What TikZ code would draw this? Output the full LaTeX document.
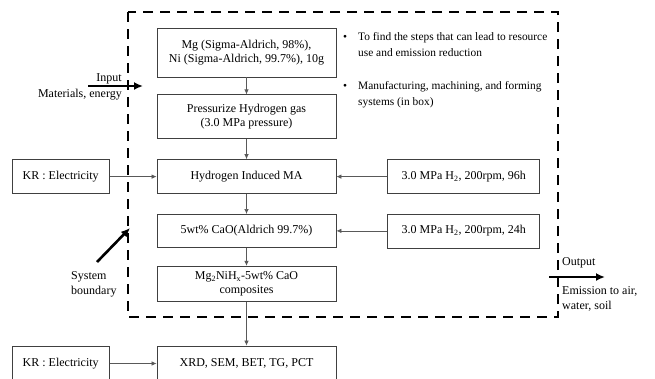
\documentclass[tikz,border=0pt]{standalone}
\usepackage{fontspec}
\setmainfont{Liberation Serif}
\usetikzlibrary{arrows.meta,positioning}

\begin{document}
\begin{tikzpicture}[
    x=1pt, y=-1pt,
    font=\fontsize{12}{14}\selectfont,
    box/.style={rectangle, draw=black!75, line width=0.8pt, fill=white, align=center, inner sep=2pt},
    mainbox/.style={box, minimum width=179pt},
    sidebox/.style={box, minimum width=97pt, minimum height=34pt},
    parambox/.style={box, minimum width=152pt, minimum height=34pt},
    lbl/.style={inner sep=0pt, align=left, font=\fontsize{12}{15.5}\selectfont},
    note/.style={inner sep=0pt, align=left, anchor=north west, font=\fontsize{11.4}{16}\selectfont},
    arrow/.style={-{Latex[length=5pt,width=4.5pt]}, draw=black!65, line width=0.7pt},
    bigarrow/.style={-{Latex[length=9pt,width=8pt]}, line width=2.6pt},
    boundary/.style={dash pattern=on 10pt off 7pt, line width=2.6pt}
]
\useasboundingbox (0,0) rectangle (655,378);

% system boundary
\draw[boundary] (128,12) rectangle (558,317);

% process chain
\node[mainbox, minimum height=49pt] (mg) at (246.5,52.5) {Mg (Sigma-Aldrich, 98\%),\\Ni (Sigma-Aldrich, 99.7\%), 10g};
\node[mainbox, minimum height=44pt, below=17pt of mg] (press) {Pressurize Hydrogen gas\\(3.0 MPa pressure)};
\node[mainbox, minimum height=34pt, below=20pt of press] (hima) {Hydrogen Induced MA};
\node[mainbox, minimum height=33pt, below=20pt of hima] (cao) {5wt\% CaO(Aldrich 99.7\%)};
\node[mainbox, minimum height=35pt, below=18pt of cao] (comp) {Mg\textsubscript{2}NiH\textsubscript{x}-5wt\% CaO\\composites};
\node[mainbox, minimum height=35pt, below=44pt of comp] (anal) {XRD, SEM, BET, TG, PCT};

% side inputs
\node[sidebox, left=47pt of hima] (kra) {KR : Electricity};
\node[sidebox, left=47pt of anal] (krb) {KR : Electricity};
\node[parambox, right=51pt of hima] (mill96) {3.0 MPa H\textsubscript{2}, 200rpm, 96h};
\node[parambox, right=51pt of cao] (mill24) {3.0 MPa H\textsubscript{2}, 200rpm, 24h};

\draw[arrow] (mg) -- (press);
\draw[arrow] (press) -- (hima);
\draw[arrow] (hima) -- (cao);
\draw[arrow] (cao) -- (comp);
\draw[arrow] (comp) -- (anal);
\draw[arrow] (kra) -- (hima);
\draw[arrow] (krb) -- (anal);
\draw[arrow] (mill96) -- (hima);
\draw[arrow] (mill24) -- (cao);

% notes
\node[note] (goal) at (343,32)
  {\makebox[15pt][l]{\textbullet}To find the steps that can lead to resource\\\hspace*{15pt}use and emission reduction};
\node[note] (scope) at (343,81)
  {\makebox[15pt][l]{\textbullet}Manufacturing, machining, and forming\\\hspace*{15pt}systems (in box)};

% input
\coordinate (ins) at (88,86);
\coordinate (ine) at (143,86);
\draw[bigarrow] (ins) -- (ine);
\node[lbl, anchor=east] (inlbl) at (122,79) {Input};
\node[lbl, anchor=east] (inmat) at (122,95) {Materials, energy};

% output
\coordinate (outs) at (549,277);
\coordinate (oute) at (605,277);
\draw[bigarrow] (outs) -- (oute);
\node[lbl, anchor=west] (outlbl) at (562,263) {Output};
\node[lbl, anchor=north west] (emis) at (562,286) {Emission to air,\\water, soil};

% boundary label
\coordinate (sbs) at (97,262);
\coordinate (sbe) at (130,228);
\draw[bigarrow] (sbs) -- (sbe);
\node[lbl, anchor=north west] (sblbl) at (71,271) {System\\boundary};
\end{tikzpicture}
\end{document}
